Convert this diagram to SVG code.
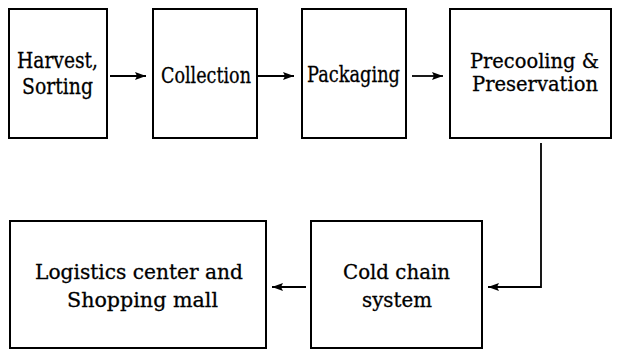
<svg xmlns="http://www.w3.org/2000/svg" width="619" height="350" viewBox="0 0 619 350">
<style>
.box{fill:#fff;stroke:#000;stroke-width:2}
.t{font-family:"DejaVu Serif","Liberation Serif",serif;fill:#000;stroke:#000;stroke-width:0.3}
.top{font-size:22px}
.bot{font-size:20px}
.c{fill:none;stroke:#000;stroke-width:1.8}
</style>
<defs>
<marker id="ah" viewBox="0 0 11 8" refX="11" refY="4" markerWidth="11" markerHeight="8" markerUnits="userSpaceOnUse" orient="auto">
<path d="M0,0 L11,4 L0,8 L2,4 Z" fill="#000"/>
</marker>
</defs>
<rect width="619" height="350" fill="#fff"/>
<g id="n1">
<rect class="box" x="9" y="9" width="98" height="129"/>
<text class="t top" x="17" y="68" textLength="81" lengthAdjust="spacingAndGlyphs">Harvest,</text>
<text class="t top" x="22" y="94" textLength="71" lengthAdjust="spacingAndGlyphs">Sorting</text>
</g>
<g id="n2">
<rect class="box" x="153" y="9" width="104" height="129"/>
<text class="t top" x="161" y="83" textLength="90" lengthAdjust="spacingAndGlyphs">Collection</text>
</g>
<g id="n3">
<rect class="box" x="302" y="9" width="104" height="129"/>
<text class="t top" x="307" y="82" textLength="93" lengthAdjust="spacingAndGlyphs">Packaging</text>
</g>
<g id="n4">
<rect class="box" x="450" y="9" width="161" height="129"/>
<text class="t" font-size="21" x="470" y="68" textLength="129" lengthAdjust="spacingAndGlyphs">Precooling &amp;</text>
<text class="t" font-size="21" x="472" y="91" textLength="126" lengthAdjust="spacingAndGlyphs">Preservation</text>
</g>
<g id="n5">
<rect class="box" x="311" y="221" width="171" height="127"/>
<text class="t bot" x="343" y="279" textLength="107" lengthAdjust="spacingAndGlyphs">Cold chain</text>
<text class="t bot" x="362" y="307" textLength="70" lengthAdjust="spacingAndGlyphs">system</text>
</g>
<g id="n6">
<rect class="box" x="10" y="221" width="256" height="127"/>
<text class="t bot" x="35" y="279" textLength="208" lengthAdjust="spacingAndGlyphs">Logistics center and</text>
<text class="t bot" x="67" y="307" textLength="151" lengthAdjust="spacingAndGlyphs">Shopping mall</text>
</g>
<g id="connectors">
<line class="c" x1="110" y1="76" x2="146" y2="76" marker-end="url(#ah)"/>
<line class="c" x1="258" y1="76" x2="294" y2="76" marker-end="url(#ah)"/>
<line class="c" x1="412" y1="76" x2="443" y2="76" marker-end="url(#ah)"/>
<polyline class="c" points="541,143 541,287 488,287" marker-end="url(#ah)"/>
<line class="c" x1="306" y1="287" x2="272" y2="287" marker-end="url(#ah)"/>
</g>
</svg>
